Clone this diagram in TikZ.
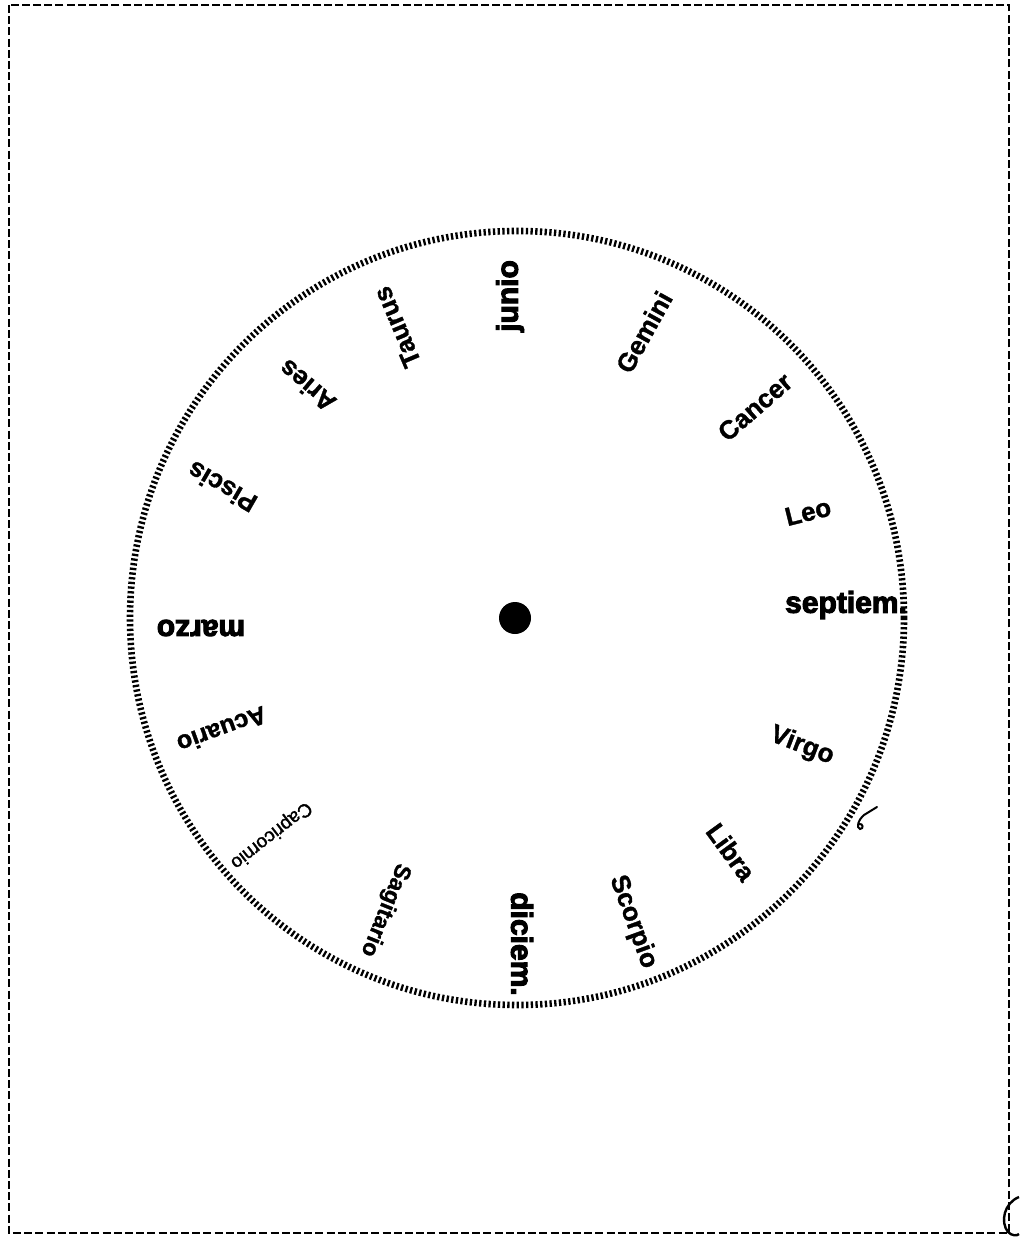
\documentclass[tikz,border=0pt]{standalone}
\usepackage{fontspec}
\setmainfont{Liberation Sans}
\newfontfamily\heavyfont[FakeBold=3.5]{Liberation Sans Bold}
\newfontfamily\signfont[FakeBold=1.2]{Liberation Sans Bold}
\newfontfamily\smallsignfont[FakeBold=1.5]{Liberation Sans}
\begin{document}
\begin{tikzpicture}[x=0.5pt,y=-0.5pt,
  month/.style={font=\heavyfont\fontsize{15}{15}\selectfont,inner sep=0pt},
  sign/.style={font=\signfont\fontsize{13}{13}\selectfont,inner sep=0pt},
  ring/.style={line width=3.3pt,dash pattern=on 1.15pt off 1.2pt},
  frame/.style={line width=1.4pt,dash pattern=on 4pt off 1.6pt},
  straymark/.style={line width=1pt,line cap=round}]
\useasboundingbox (0,0) rectangle (1019,1240);
\fill[white] (0,0) rectangle (1019,1240);
% frame
\coordinate (tl) at (9,5);
\coordinate (br) at (1009,1233);
\draw[frame] (tl) rectangle (br);
% dial
\coordinate (c) at (517,618);
\draw[ring] (c) circle[radius=193.5pt];
\fill (515,618) circle[radius=8pt];
% months
\node[month,rotate=90] (junio) at (510,296) {junio};
\node[month] (sept) at (846,605) {septiem.};
\node[month,rotate=-90] (dic) at (522,944) {diciem.};
\node[month,rotate=180] (marzo) at (201,628) {marzo};
% signs
\node[sign,rotate=61] (gemini) at (644,332) {Gemini};
\node[sign,rotate=41] (cancer) at (755,407) {Cancer};
\node[sign,rotate=14] (leo) at (808,512) {Leo};
\node[sign,rotate=-21] (virgo) at (802,746) {Virgo};
\node[sign,rotate=-54] (libra) at (731,852) {Libra};
\node[sign,rotate=-70] (scorpio) at (633,922) {Scorpio};
\node[sign,rotate=-112,font=\signfont\fontsize{11.5}{11.5}\selectfont] (sagit) at (385,910) {Sagitario};
\node[sign,rotate=-142,font=\smallsignfont\fontsize{9.5}{9.5}\selectfont] (capri) at (271,835) {Capricornio};
\node[sign,rotate=-160,font=\signfont\fontsize{12.5}{12.5}\selectfont] (acuario) at (222,730) {Acuario};
\node[sign,rotate=150] (piscis) at (222,487) {Piscis};
\node[sign,rotate=140] (aries) at (307,386) {Aries};
\node[sign,rotate=113] (taurus) at (397,327) {Taurus};
% stray marks
\draw[straymark] (877,807) -- (864,815) .. controls (858,820) and (856,828) .. (860,829) .. controls (864,829) and (863,823) .. (859,824);
\draw[line width=1.2pt] (1019,1197) .. controls (1004,1203) and (1000,1222) .. (1008,1232) .. controls (1012,1236) and (1017,1236) .. (1019,1234);
\end{tikzpicture}
\end{document}
